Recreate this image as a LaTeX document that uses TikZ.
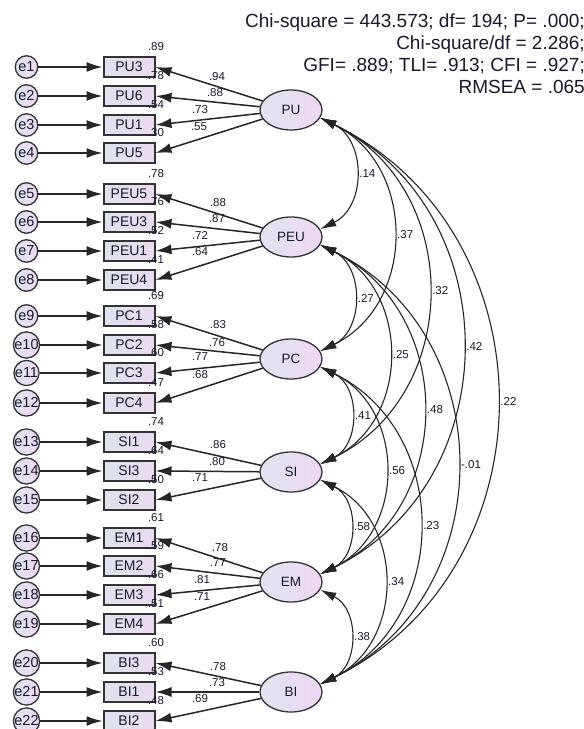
\documentclass[tikz,border=0pt]{standalone}
\usepackage{fontspec}
\setmainfont{Liberation Sans}
\usetikzlibrary{arrows.meta,shapes.geometric,calc}
\definecolor{boxL}{RGB}{222,226,236}
\definecolor{boxR}{RGB}{234,220,240}
\definecolor{latL}{RGB}{224,228,240}
\definecolor{latR}{RGB}{238,216,244}
\definecolor{edge}{RGB}{50,50,55}
\definecolor{txt}{RGB}{25,25,45}
\begin{document}
\begin{tikzpicture}[x=1pt,y=1pt,
  obs/.style={draw=edge, line width=2pt, minimum width=51pt, minimum height=20pt, inner sep=0pt,
    left color=boxL, right color=boxR, text=txt, font=\fontsize{14}{14}\selectfont},
  lat/.style={ellipse, draw=edge, line width=1.3pt, minimum width=62pt, minimum height=40pt, inner sep=0pt,
    left color=latL, right color=latR, text=txt, font=\fontsize{13.5}{13.5}\selectfont},
  err/.style={circle, draw=edge, line width=1.3pt, minimum size=22.5pt, inner sep=0pt,
    left color=latL, right color=latR, text=txt, font=\fontsize{14.5}{14.5}\selectfont},
  earrow/.style={-{Latex[length=16pt,width=10pt]}, line width=1.7pt, draw=black!85},
  load/.style={-{Latex[length=16pt,width=10pt]}, line width=1.5pt, draw=black!85},
  cov/.style={{Latex[length=16pt,width=9pt]}-{Latex[length=16pt,width=9pt]}, line width=1.1pt, draw=black!85},
  num/.style={font=\fontsize{11.5}{11.5}\selectfont, inner sep=0pt, text=txt},
  fittxt/.style={font=\fontsize{19}{19}\selectfont, inner sep=0pt, anchor=base east, text=txt}
]
\useasboundingbox (0,0) rectangle (584,729);
\clip (0,0) rectangle (584,729);

% fit indices
\node[fittxt] (f1) at (585,701.7) {Chi-square = 443.573; df= 194; P= .000;};
\node[fittxt] (f2) at (585,679.5) {Chi-square/df = 2.286;};
\node[fittxt] (f3) at (585,657.3) {GFI= .889; TLI= .913; CFI = .927;};
\node[fittxt] (f4) at (585,635.0) {RMSEA = .065};

% latent variables
\node[lat] (PU)  at (291,619) {PU};
\node[lat] (PEU) at (291,492) {PEU};
\node[lat] (PC)  at (291,370) {PC};
\node[lat] (SI)  at (291,257) {SI};
\node[lat] (EM)  at (291,147) {EM};
\node[lat] (BI)  at (291,37)  {BI};

% indicators with error terms and R^2
\foreach \i/\b/\y/\r in {1/PU3/662/.89, 2/PU6/633/.78, 3/PU1/604/.54, 4/PU5/576/.30,
  5/PEU5/535/.78, 6/PEU3/507/.76, 7/PEU1/478/.52, 8/PEU4/449/.41,
  9/PC1/413/.69, 10/PC2/384/.58, 11/PC3/356/.60, 12/PC4/326/.47,
  13/SI1/287/.74, 14/SI3/258/.64, 15/SI2/229/.50,
  16/EM1/191/.61, 17/EM2/163/.59, 18/EM3/134/.66, 19/EM4/105/.51,
  20/BI3/66/.60, 21/BI1/37/.53, 22/BI2/8/.48} {
  \node[err] (e\i) at (26.5,\y) {e\i};
  \node[obs] (\b) at (129,\y) {\b};
  \draw[earrow] (e\i) -- (\b);
  \node[num] (r\b) at (156,\y+20.5) {\r};
}

% loadings
\foreach \L/\b/\v/\x/\y in {PU/PU3/.94/217/652, PU/PU6/.88/215/636, PU/PU1/.73/200/619, PU/PU5/.55/199/602,
  PEU/PEU5/.88/218/526, PEU/PEU3/.87/217/510, PEU/PEU1/.72/200/494, PEU/PEU4/.64/200/477,
  PC/PC1/.83/218/404, PC/PC2/.76/217/386, PC/PC3/.77/200/372, PC/PC4/.68/200/354,
  SI/SI1/.86/218/284, SI/SI3/.80/217/267, SI/SI2/.71/200/251,
  EM/EM1/.78/220/181, EM/EM2/.77/218/166, EM/EM3/.81/202/149, EM/EM4/.71/202/132,
  BI/BI3/.78/218/62, BI/BI1/.73/217/46, BI/BI2/.69/200/30} {
  \draw[load] (\L) -- (\b.east);
  \node[num] (l\b) at (\x,\y) {\v};
}

% covariances
\foreach \a/\b/\v in {PU/PEU/.14, PU/PC/.37, PU/SI/.32, PU/EM/.42, PU/BI/.22,
  PEU/PC/.27, PEU/SI/.25, PEU/EM/.48, PEU/BI/-.01,
  PC/SI/.41, PC/EM/.56, PC/BI/.23,
  SI/EM/.58, SI/BI/.34, EM/BI/.38} {
  \draw[cov] (\a.-15) to[out=-26, in=26, looseness=1.18]
    node[num, pos=0.5, right=4pt] (c\a\b) {\v} (\b.15);
}
\end{tikzpicture}
\end{document}
